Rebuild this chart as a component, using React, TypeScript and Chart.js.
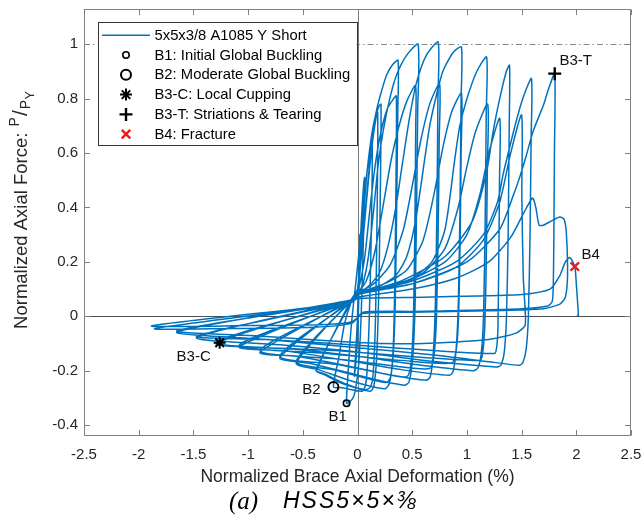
import { useEffect, useRef } from "react";
import { Chart, registerables } from "chart.js";
import { drawPoint } from "chart.js/helpers";

Chart.register(...registerables);

// ---- axis ticks ----
const xTicks = [-2.5, -2, -1.5, -1, -0.5, 0, 0.5, 1, 1.5, 2, 2.5];
const yTicks = [-0.4, -0.2, 0, 0.2, 0.4, 0.6, 0.8, 1];
const xRange = [-2.5, 2.5];
const yRange = [-0.44, 1.13];
const yieldRatio = 1;

// ---- hysteresis record, split by loading cycle ([deformation %, P/Py]) ----
const elasticCycles = [
  [0, 0], [0.008, 0.12], [0.018, 0.26], [0.022, 0.3], [0.015, 0.12], [0.002, -0.06], [-0.015, -0.17],
  [-0.028, -0.22], [-0.015, -0.12], [0.0, -0.01], [0.015, 0.15], [0.035, 0.35], [0.055, 0.48],
  [0.065, 0.51], [0.055, 0.3], [0.035, 0.02], [0.01, -0.18], [-0.03, -0.29], [-0.07, -0.315], [-0.1, -0.32],
];
const cycle1 = [
  [-0.085, -0.2], [-0.06, -0.05], [-0.03, 0.07], [0.01, 0.22], [0.05, 0.4], [0.09, 0.54], [0.12, 0.61],
  [0.135, 0.63], [0.13, 0.4], [0.115, 0.1], [0.095, -0.15], [0.075, -0.25], [0.045, -0.275], [-0.05, -0.27],
  [-0.15, -0.262], [-0.22, -0.26],
];
const cycle2a = [
  [-0.17, -0.15], [-0.12, -0.03], [-0.06, 0.05], [0.0, 0.1], [0.04, 0.3], [0.08, 0.5], [0.12, 0.64],
  [0.16, 0.73], [0.2, 0.775], [0.215, 0.78], [0.21, 0.5], [0.195, 0.1], [0.175, -0.15], [0.15, -0.255],
  [0.12, -0.275], [0.0, -0.265], [-0.15, -0.245], [-0.3, -0.215], [-0.375, -0.2],
];
const cycle2b = [
  [-0.06, 0.06], [0.0, 0.1], [0.05, 0.28], [0.1, 0.5], [0.14, 0.65], [0.17, 0.73], [0.185, 0.75],
  [0.18, 0.4], [0.165, 0.0], [0.145, -0.2], [0.12, -0.26], [0.07, -0.27], [-0.1, -0.25], [-0.3, -0.212],
  [-0.38, -0.198],
];
const cycle3a = [
  [-0.06, 0.05], [0.0, 0.08], [0.03, 0.2], [0.07, 0.38], [0.11, 0.56], [0.14, 0.68], [0.17, 0.75],
  [0.2, 0.8], [0.265, 0.886], [0.32, 0.925], [0.371, 0.941], [0.368, 0.75], [0.358, 0.4], [0.345, 0.05],
  [0.325, -0.15], [0.29, -0.248], [0.25, -0.266], [0.1, -0.255], [-0.1, -0.232], [-0.35, -0.197],
  [-0.56, -0.172],
];
const cycle3b = [
  [-0.06, 0.06], [0.0, 0.09], [0.06, 0.2], [0.11, 0.38], [0.16, 0.55], [0.21, 0.67], [0.27, 0.76],
  [0.33, 0.8], [0.355, 0.81], [0.352, 0.5], [0.342, 0.15], [0.328, -0.1], [0.305, -0.22], [0.265, -0.243],
  [0.1, -0.23], [-0.2, -0.198], [-0.56, -0.166],
];
const cycle4a = [
  [-0.06, 0.055], [0.0, 0.08], [0.05, 0.12], [0.1, 0.22], [0.15, 0.4], [0.19, 0.56], [0.234, 0.68],
  [0.295, 0.8], [0.356, 0.886], [0.45, 0.96], [0.554, 1.0], [0.55, 0.75], [0.54, 0.4], [0.527, 0.05],
  [0.505, -0.15], [0.47, -0.242], [0.43, -0.253], [0.2, -0.236], [-0.1, -0.206], [-0.45, -0.172],
  [-0.71, -0.152],
];
const cycle4b = [
  [-0.06, 0.06], [0.0, 0.085], [0.08, 0.13], [0.16, 0.24], [0.24, 0.42], [0.31, 0.58], [0.38, 0.7],
  [0.45, 0.79], [0.53, 0.848], [0.532, 0.7], [0.525, 0.35], [0.512, 0.0], [0.49, -0.17], [0.45, -0.222],
  [0.2, -0.207], [-0.2, -0.176], [-0.71, -0.146],
];
const cycle5a = [
  [-0.06, 0.055], [0.0, 0.08], [0.1, 0.11], [0.2, 0.16], [0.28, 0.26], [0.35, 0.4], [0.41, 0.56],
  [0.48, 0.74], [0.54, 0.86], [0.63, 0.96], [0.737, 1.008], [0.735, 0.8], [0.726, 0.4], [0.712, 0.05],
  [0.692, -0.14], [0.665, -0.222], [0.63, -0.235], [0.3, -0.216], [-0.1, -0.182], [-0.55, -0.147],
  [-0.89, -0.132],
];
const cycle5b = [
  [-0.06, 0.06], [0.0, 0.085], [0.15, 0.12], [0.3, 0.19], [0.42, 0.32], [0.51, 0.5], [0.58, 0.65],
  [0.66, 0.78], [0.75, 0.855], [0.747, 0.65], [0.737, 0.3], [0.722, 0.0], [0.7, -0.14], [0.66, -0.192],
  [0.3, -0.181], [-0.2, -0.156], [-0.89, -0.126],
];
const cycle6a = [
  [-0.06, 0.055], [0.0, 0.08], [0.2, 0.11], [0.35, 0.15], [0.45, 0.22], [0.53, 0.35], [0.615, 0.58],
  [0.66, 0.7], [0.72, 0.81], [0.78, 0.9], [0.874, 0.97], [0.95, 0.99], [0.947, 0.8], [0.937, 0.4],
  [0.922, 0.05], [0.9, -0.13], [0.872, -0.205], [0.84, -0.217], [0.4, -0.196], [-0.1, -0.162],
  [-0.65, -0.128], [-1.08, -0.112],
];
const cycle6b = [
  [-0.06, 0.06], [0.0, 0.085], [0.25, 0.12], [0.45, 0.17], [0.6, 0.28], [0.7, 0.45], [0.78, 0.62],
  [0.86, 0.75], [0.95, 0.82], [0.947, 0.6], [0.937, 0.25], [0.922, -0.02], [0.9, -0.13], [0.86, -0.172],
  [0.4, -0.162], [-0.3, -0.136], [-1.08, -0.106],
];
const cycle7a = [
  [-0.06, 0.055], [0.0, 0.08], [0.25, 0.1], [0.5, 0.14], [0.68, 0.2], [0.8, 0.32], [0.89, 0.58],
  [0.935, 0.7], [1.0, 0.8], [1.09, 0.9], [1.18, 0.953], [1.177, 0.75], [1.167, 0.35], [1.152, 0.0],
  [1.13, -0.14], [1.1, -0.19], [1.057, -0.2], [0.6, -0.181], [0.0, -0.147], [-0.6, -0.12], [-1.29, -0.1],
];
const cycle7b = [
  [-0.06, 0.06], [0.0, 0.085], [0.3, 0.11], [0.6, 0.16], [0.8, 0.25], [0.92, 0.4], [1.0, 0.55],
  [1.08, 0.68], [1.19, 0.78], [1.187, 0.55], [1.177, 0.2], [1.162, -0.05], [1.142, -0.14], [1.12, -0.162],
  [0.6, -0.151], [-0.2, -0.126], [-1.29, -0.096],
];
const cycle8a = [
  [-0.06, 0.055], [0.0, 0.08], [0.4, 0.13], [0.8, 0.22], [1.05, 0.35], [1.18, 0.53], [1.24, 0.68],
  [1.3, 0.8], [1.36, 0.9], [1.39, 0.923], [1.387, 0.7], [1.377, 0.3], [1.362, 0.0], [1.342, -0.13],
  [1.31, -0.18], [1.27, -0.186], [0.7, -0.166], [0.0, -0.131], [-0.7, -0.105], [-1.47, -0.078],
];
const cycle8b = [
  [-0.06, 0.06], [0.0, 0.085], [0.4, 0.12], [0.8, 0.2], [1.0, 0.3], [1.12, 0.45], [1.2, 0.6],
  [1.3, 0.728], [1.298, 0.5], [1.29, 0.15], [1.283, -0.05], [1.27, -0.12], [1.25, -0.137], [0.7, -0.126],
  [0.0, -0.106], [-0.8, -0.086], [-1.47, -0.073],
];
const cycle9a = [
  [-0.06, 0.055], [0.0, 0.08], [0.5, 0.13], [0.9, 0.2], [1.15, 0.3], [1.28, 0.42], [1.33, 0.52],
  [1.39, 0.62], [1.45, 0.716], [1.51, 0.8], [1.59, 0.874], [1.587, 0.65], [1.577, 0.3], [1.562, 0.0],
  [1.542, -0.12], [1.512, -0.17], [1.48, -0.18], [1.2, -0.167], [0.7, -0.142], [0.0, -0.116],
  [-0.8, -0.086], [-1.65, -0.058],
];
const cycle9b = [
  [-0.06, 0.06], [0.0, 0.085], [0.5, 0.12], [0.9, 0.18], [1.15, 0.28], [1.3, 0.42], [1.4, 0.6],
  [1.5, 0.74], [1.502, 0.45], [1.515, 0.15], [1.535, 0.0], [1.53, -0.035], [1.45, -0.062], [1.2, -0.085],
  [0.6, -0.1], [0.0, -0.096], [-0.9, -0.072], [-1.65, -0.053],
];
const cycle10 = [
  [-0.06, 0.055], [0.0, 0.08], [0.5, 0.12], [1.0, 0.2], [1.3, 0.32], [1.42, 0.44], [1.48, 0.508],
  [1.545, 0.594], [1.605, 0.68], [1.7, 0.777], [1.75, 0.84], [1.803, 0.892], [1.8, 0.6], [1.795, 0.3],
  [1.79, 0.12], [1.78, 0.055], [1.74, 0.038], [1.5, 0.028], [1.0, 0.022], [0.5, 0.018], [0.05, 0.015],
  [-0.05, -0.025], [-0.4, -0.04], [-1.2, -0.045], [-1.85, -0.045],
];
const cycle11 = [
  [-0.06, 0.05], [0.0, 0.07], [0.5, 0.1], [0.9, 0.14], [1.2, 0.2], [1.4, 0.29], [1.52, 0.38],
  [1.6, 0.435], [1.63, 0.4], [1.66, 0.335], [1.7, 0.335], [1.77, 0.35], [1.85, 0.365], [1.89, 0.355],
  [1.91, 0.3], [1.92, 0.15], [1.9, 0.07], [1.85, 0.045], [1.7, 0.028], [1.2, 0.02], [0.5, 0.015],
  [0.05, 0.01], [-0.05, -0.02], [-0.3, -0.03], [-1.0, -0.034], [-1.88, -0.035],
];
const cycle12 = [
  [-0.06, 0.05], [0.0, 0.065], [0.6, 0.07], [1.1, 0.075], [1.5, 0.08], [1.76, 0.1], [1.85, 0.15],
  [1.9, 0.2], [1.94, 0.216], [1.986, 0.183], [2.0, 0.12], [2.012, 0.05], [2.018, 0.003], [2.005, 0.003],
];

const cycles = [
  elasticCycles, cycle1, cycle2a, cycle2b, cycle3a, cycle3b, cycle4a, cycle4b, cycle5a, cycle5b,
  cycle6a, cycle6b, cycle7a, cycle7b, cycle8a, cycle8b, cycle9a, cycle9b, cycle10, cycle11, cycle12,
];

// ---- damage milestones ----
const seriesName = "5x5x3/8 A1085 Y Short";
const milestoneTags = ["B1", "B2", "B3-C", "B3-T", "B4"];
const milestoneLegend = [
  "B1: Initial Global Buckling",
  "B2: Moderate Global Buckling",
  "B3-C: Local Cupping",
  "B3-T: Striations & Tearing",
  "B4: Fracture",
];
const milestoneX = [-0.1, -0.22, -1.26, 1.803, 1.986];
const milestoneY = [-0.32, -0.26, -0.097, 0.892, 0.183];

const BLUE = "#0072bd";
const AXIS = "#262626";
const FRAME = "#808080";
const SANS = "'Liberation Sans', Arial, Helvetica, sans-serif";

const markerStyles = [
  { pointStyle: "circle", radius: 3.2, borderWidth: 1.6, color: "#000" },
  { pointStyle: "circle", radius: 5, borderWidth: 2, color: "#000" },
  { pointStyle: "star", radius: 6, borderWidth: 2, color: "#000" },
  { pointStyle: "cross", radius: 6.5, borderWidth: 2.4, color: "#000" },
  { pointStyle: "crossRot", radius: 6, borderWidth: 2.4, color: "#f01818" },
];
// label offsets (px) relative to each milestone marker
const tagOffsets = [
  [-9, 14], [-22, 3], [-26, 14], [21, -13], [16, -12],
];

const framePlugin = {
  id: "frame",
  beforeDatasetsDraw(chart: any) {
    const { ctx, chartArea: a, scales } = chart;
    const x = scales.x, y = scales.y;
    ctx.save();
    ctx.lineWidth = 1;
    // zero axes through the origin
    ctx.strokeStyle = "#4d4d4d";
    const y0 = Math.round(y.getPixelForValue(0)) + 0.5;
    ctx.beginPath(); ctx.moveTo(a.left, y0); ctx.lineTo(a.right, y0); ctx.stroke();
    ctx.strokeStyle = "#7a7a7a";
    const x0 = Math.round(x.getPixelForValue(0)) + 0.5;
    ctx.beginPath(); ctx.moveTo(x0, a.top); ctx.lineTo(x0, a.bottom); ctx.stroke();
    // yield reference line P/Py = 1
    ctx.strokeStyle = "#8a8a8a";
    ctx.setLineDash([6, 3, 1.5, 3]);
    const y1 = Math.round(y.getPixelForValue(yieldRatio)) + 0.5;
    ctx.beginPath(); ctx.moveTo(a.left, y1); ctx.lineTo(a.right, y1); ctx.stroke();
    ctx.restore();
  },
  afterDatasetsDraw(chart: any) {
    const { ctx, chartArea: a, scales } = chart;
    const x = scales.x, y = scales.y;
    ctx.save();
    // box and inward ticks
    ctx.strokeStyle = FRAME;
    ctx.lineWidth = 1;
    const L = Math.round(a.left) + 0.5, R = Math.round(a.right) - 0.5;
    const T = Math.round(a.top) + 0.5, B = Math.round(a.bottom) - 0.5;
    ctx.strokeRect(L, T, R - L, B - T);
    const tl = 5.5;
    ctx.beginPath();
    xTicks.forEach((v) => {
      const px = Math.round(x.getPixelForValue(v)) + 0.5;
      ctx.moveTo(px, B); ctx.lineTo(px, B - tl);
      ctx.moveTo(px, T); ctx.lineTo(px, T + tl);
    });
    yTicks.forEach((v) => {
      const py = Math.round(y.getPixelForValue(v)) + 0.5;
      ctx.moveTo(L, py); ctx.lineTo(L + tl, py);
      ctx.moveTo(R, py); ctx.lineTo(R - tl, py);
    });
    ctx.stroke();

    // milestone tags
    ctx.fillStyle = "#111";
    ctx.font = `15px ${SANS}`;
    ctx.textAlign = "center";
    ctx.textBaseline = "middle";
    milestoneTags.forEach((t, i) => {
      const px = x.getPixelForValue(milestoneX[i]);
      const py = y.getPixelForValue(milestoneY[i]);
      ctx.fillText(t, px + tagOffsets[i][0], py + tagOffsets[i][1]);
    });

    // legend
    const lx = a.left + 13.5, ly = a.top + 13.5, lw = 259, lh = 123;
    ctx.fillStyle = "#fff";
    ctx.fillRect(lx, ly, lw, lh);
    ctx.strokeStyle = "#333";
    ctx.strokeRect(Math.round(lx) + 0.5, Math.round(ly) + 0.5, lw, lh);
    const rowH = 19.8;
    const row0 = ly + 12.8;
    ctx.font = `14.8px ${SANS}`;
    ctx.textAlign = "left";
    ctx.textBaseline = "middle";
    ctx.strokeStyle = BLUE;
    ctx.lineWidth = 1.5;
    ctx.beginPath(); ctx.moveTo(lx + 4.5, row0); ctx.lineTo(lx + 52.5, row0); ctx.stroke();
    ctx.fillStyle = "#000";
    ctx.fillText(seriesName, lx + 57, row0 + 0.5);
    milestoneLegend.forEach((label, i) => {
      const ry = row0 + rowH * (i + 1);
      const m = markerStyles[i];
      ctx.save();
      ctx.strokeStyle = m.color;
      ctx.fillStyle = "rgba(0,0,0,0)";
      ctx.lineWidth = m.borderWidth;
      drawPoint(ctx, { pointStyle: m.pointStyle as any, radius: m.radius, rotation: 0, borderWidth: m.borderWidth }, lx + 28.5, ry);
      ctx.restore();
      ctx.fillStyle = "#000";
      ctx.fillText(label, lx + 57, ry + 0.5);
    });
    ctx.restore();
  },
  afterDraw(chart: any) {
    const { ctx, chartArea: a } = chart;
    ctx.save();
    ctx.fillStyle = AXIS;
    ctx.textBaseline = "middle";
    ctx.textAlign = "center";
    // x title
    ctx.font = `17.5px ${SANS}`;
    ctx.fillText("Normalized Brace Axial Deformation (%)", (a.left + a.right) / 2, 477);

    // caption: serif "(a)" followed by the section designation
    ctx.fillStyle = "#000";
    ctx.textAlign = "left";
    ctx.font = `italic 25px 'Liberation Serif', 'Times New Roman', serif`;
    ctx.fillText("(a)", 229, 502);
    ctx.font = `italic 23px ${SANS}`;
    (ctx as any).letterSpacing = "2px";
    ctx.fillText("HSS5×5×⅜", 283, 502);
    (ctx as any).letterSpacing = "0px";

    // y title with P/P_Y fraction
    ctx.fillStyle = AXIS;
    ctx.translate(21, 210);
    ctx.rotate(-Math.PI / 2);
    ctx.textBaseline = "alphabetic";
    const big = `18.5px ${SANS}`;
    const pieces = [
      { t: "Normalized Axial Force: ", f: big, dy: 0, gap: 1 },
      { t: "P", f: `14px ${SANS}`, dy: -8, gap: 1 },
      { t: "/", f: `21px ${SANS}`, dy: 0, gap: 1 },
      { t: "P", f: `14px ${SANS}`, dy: 3, gap: 0.5 },
      { t: "Y", f: `12.5px ${SANS}`, dy: 7, gap: 0 },
    ];
    let total = 0;
    const widths = pieces.map((p) => { ctx.font = p.f; const w = ctx.measureText(p.t).width + p.gap; total += w; return w; });
    let cur = -total / 2;
    pieces.forEach((p, i) => {
      ctx.font = p.f;
      ctx.fillText(p.t, cur, 6 + p.dy);
      cur += widths[i];
    });
    ctx.restore();
  },
};

export default function App() {
  const ref = useRef<HTMLCanvasElement>(null);
  useEffect(() => {
    Chart.defaults.font.family = SANS;
    const path = cycles.flat().map(([px, py]) => ({ x: px, y: py }));
    const markerSets = milestoneTags.map((tag, i) => ({
      label: tag,
      data: [{ x: milestoneX[i], y: milestoneY[i] }],
      showLine: false,
      pointStyle: markerStyles[i].pointStyle as any,
      pointRadius: markerStyles[i].radius,
      pointBorderWidth: markerStyles[i].borderWidth,
      pointBorderColor: markerStyles[i].color,
      pointBackgroundColor: "rgba(0,0,0,0)",
      pointHoverRadius: markerStyles[i].radius,
    }));
    const chart = new Chart(ref.current!, {
      type: "scatter",
      data: {
        datasets: [
          ...markerSets,
          {
            label: seriesName,
            data: path,
            showLine: true,
            borderColor: BLUE,
            borderWidth: 1.5,
            pointRadius: 0,
            pointHoverRadius: 0,
            tension: 0.22,
            fill: false,
          } as any,
        ],
      },
      options: {
        responsive: false,
        animation: false,
        events: [],
        layout: { padding: { left: 0, right: 10, top: 7, bottom: 0 } },
        plugins: { legend: { display: false }, tooltip: { enabled: false }, title: { display: false } },
        scales: {
          x: {
            type: "linear",
            min: xRange[0],
            max: xRange[1],
            grid: { display: false, drawTicks: false },
            border: { display: false },
            afterBuildTicks: (s: any) => { s.ticks = xTicks.map((v) => ({ value: v })); },
            afterFit: (s: any) => { s.height = 85; s.paddingLeft = 0; s.paddingRight = 0; },
            ticks: {
              color: AXIS,
              font: { size: 15, family: SANS },
              padding: 10,
              maxRotation: 0,
              autoSkip: false,
              callback: (v: any) => String(v),
            },
          },
          y: {
            type: "linear",
            min: yRange[0],
            max: yRange[1],
            grid: { display: false, drawTicks: false },
            border: { display: false },
            afterBuildTicks: (s: any) => { s.ticks = yTicks.map((v) => ({ value: v })); },
            afterFit: (s: any) => { s.width = 84; s.paddingTop = 0; s.paddingBottom = 0; },
            ticks: {
              color: AXIS,
              font: { size: 15, family: SANS },
              padding: 6,
              autoSkip: false,
              callback: (v: any) => String(v),
            },
          },
        },
      },
      plugins: [framePlugin],
    });
    return () => chart.destroy();
  }, []);
  return (
    <div style={{ position: "absolute", left: 0, top: 0, width: 641, height: 521, background: "#fff" }}>
      <canvas ref={ref} width={641} height={521} style={{ display: "block" }} />
    </div>
  );
}
